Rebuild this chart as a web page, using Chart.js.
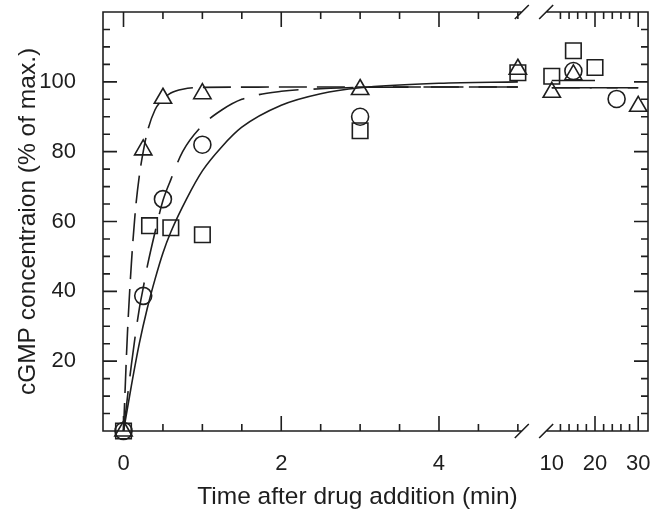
<!DOCTYPE html>
<html>
<head>
<meta charset="utf-8">
<script src="https://cdn.jsdelivr.net/npm/chart.js@4/dist/chart.umd.min.js"></script>
<style>
  html, body { margin: 0; padding: 0; background: #fff; overflow: hidden; }
  #wrap { width: 652px; height: 510px; position: relative; }
</style>
</head>
<body>
<div id="wrap"><canvas id="cgmpChart"></canvas></div>
<script>
// 測定点（時間 min, cGMP %）
const triTime = [0, 0.25, 0.5, 1, 3, 5, 10, 15, 30];
const triVal = [0, 80.5, 95.3, 96.6, 97.8, 103.6, 97, 102, 93];
const cirTime = [0, 0.25, 0.5, 1, 3, 15, 25];
const cirVal = [0, 38.7, 66.4, 82, 90, 103.1, 95.1];
const sqTime = [0, 0.33, 0.6, 1, 3, 5, 10, 15, 20];
const sqVal = [0, 58.8, 58.2, 56.2, 86, 102.6, 101.6, 108.9, 104.1];

// フィット曲線（図から読み取り、7 は軸の切れ目 = 線を切る）
const fitTriTime = [0, 0.05, 0.1, 0.15, 0.2, 0.25, 0.3, 0.4, 0.5, 0.6, 0.75, 1, 2, 3, 4, 5, 7, 10, 20, 30];
const fitTriVal = [0, 28, 48, 63, 73, 80, 85.5, 92, 95, 96.8, 97.9, 98.4, 98.5, 98.5, 98.5, 98.5, null, 98.3, 98.3, 98.3];
const fitCirTime = [0, 0.1, 0.2, 0.25, 0.3, 0.4, 0.5, 0.6, 0.75, 1, 1.25, 1.5, 2, 2.5, 3, 4, 5, 7, 10, 30];
const fitCirVal = [0, 19, 35, 41, 47, 57, 66, 72, 80, 87.5, 92, 95, 97.3, 98, 98.4, 98.5, 98.5, null, 98.3, 98.3];
const fitSqTime = [0, 0.1, 0.2, 0.3, 0.4, 0.5, 0.6, 0.8, 1, 1.25, 1.5, 2, 2.5, 3, 4, 5, 7, 10, 20];
const fitSqVal = [0, 13, 25, 35, 43.5, 51, 57, 66.5, 74.5, 81.5, 87, 93.3, 96.6, 98.3, 99.6, 100, null, 100.4, 100.4];

// 軸目盛り
const xLabels = [0, 2, 4, 10, 20, 30];
const xMinor = [0, 0.5, 1, 1.5, 2, 2.5, 3, 3.5, 4, 4.5, 5, 12, 14, 16, 18, 20, 22, 24, 26, 28, 30];
const xMajor = [0, 2, 4, 20, 30];
const yLabels = [20, 40, 60, 80, 100];
const yMinor = [5, 10, 15, 20, 25, 30, 35, 40, 45, 50, 55, 60, 65, 70, 75, 80, 85, 90, 95, 100, 105, 110, 115];
const xTitle = "Time after drug addition (min)";

// 切れ目のある横軸：0〜5 は線形、10〜30 は圧縮して右端へ
const X_MIN = -0.26;
const X_MAX = 6.65;
const BREAK_FROM = 5.05;
const BREAK_TO = 8.7;
const toAxis = (t) => (t <= 7.5 ? t : 5.43 + (t - 10) * 0.0548);
const fromAxis = (v) => (v <= 5.3 ? v : 10 + (v - 5.43) / 0.0548);

class BrokenScale extends Chart.LinearScale {
  static id = "broken";
  static defaults = Chart.LinearScale.defaults;
  determineDataLimits() {
    this.min = this.options.min;
    this.max = this.options.max;
  }
  // 表示範囲の判定は実時間で行う（右側の点が間引かれないように）
  getUserBounds() {
    return { min: fromAxis(this.options.min), max: fromAxis(this.options.max), minDefined: true, maxDefined: true };
  }
  getPixelForValue(t) {
    return super.getPixelForValue(toAxis(t));
  }
  getValueForPixel(p) {
    return fromAxis(super.getValueForPixel(p));
  }
}
Chart.register(BrokenScale);

const INK = "#1e1e1e";
const TICK_FONT = { family: "'Liberation Sans Narrow', 'Arial Narrow', 'Liberation Sans', Arial, sans-serif", size: 22 };
const TITLE_FONT = { family: "'Liberation Sans', Arial, sans-serif", size: 24.5 };
const pts = (ts, vs) => ts.map((t, i) => ({ x: t, y: vs[i] }));
const noPad = (s) => { s.paddingLeft = 0; s.paddingRight = 0; s.paddingTop = 0; s.paddingBottom = 0; };

// 内向きの目盛りと枠、切れ目の斜線、横軸タイトル
const framePlugin = {
  id: "frame",
  afterDatasetsDraw(chart) {
    const { ctx, chartArea: a, scales } = chart;
    const x = scales.x, y = scales.y;
    const bl = x.getPixelForValue(BREAK_FROM);
    const br = x.getPixelForValue(BREAK_TO);
    ctx.save();
    ctx.strokeStyle = INK;
    ctx.lineWidth = 1.6;
    ctx.beginPath();
    ctx.moveTo(bl, a.top); ctx.lineTo(a.left, a.top); ctx.lineTo(a.left, a.bottom); ctx.lineTo(bl, a.bottom);
    ctx.moveTo(br, a.top); ctx.lineTo(a.right, a.top); ctx.lineTo(a.right, a.bottom); ctx.lineTo(br, a.bottom);
    for (const px of [bl, br]) {
      for (const py of [a.top, a.bottom]) {
        ctx.moveTo(px - 7, py + 7);
        ctx.lineTo(px + 7, py - 7);
      }
    }
    xMinor.forEach((t) => {
      const px = x.getPixelForValue(t);
      const len = xMajor.includes(t) ? 15 : 7;
      ctx.moveTo(px, a.bottom); ctx.lineTo(px, a.bottom - len);
      ctx.moveTo(px, a.top); ctx.lineTo(px, a.top + len);
    });
    yMinor.forEach((v) => {
      const py = y.getPixelForValue(v);
      const len = yLabels.includes(v) ? 14 : 7;
      ctx.moveTo(a.left, py); ctx.lineTo(a.left + len, py);
      ctx.moveTo(a.right, py); ctx.lineTo(a.right - len, py);
    });
    ctx.stroke();

    // 横軸タイトル（元図は軸中央より少し左寄り）
    ctx.fillStyle = INK;
    ctx.font = `${TITLE_FONT.size}px ${TITLE_FONT.family}`;
    ctx.textAlign = "center";
    ctx.textBaseline = "middle";
    ctx.fillText(xTitle, (a.left + a.right) / 2 - 18, 497);
    ctx.restore();
  },
};

const markerStyle = {
  showLine: false,
  borderColor: INK,
  backgroundColor: "rgba(0,0,0,0)",
  borderWidth: 1.6,
  clip: false,
};
const curveStyle = {
  showLine: true,
  pointRadius: 0,
  borderColor: INK,
  borderWidth: 1.6,
  fill: false,
  cubicInterpolationMode: "monotone",
  spanGaps: false,
};

new Chart(document.getElementById("cgmpChart").getContext("2d"), {
  type: "scatter",
  data: {
    datasets: [
      { ...markerStyle, label: "triangle", data: pts(triTime, triVal), pointStyle: "triangle", pointRadius: 10 },
      { ...markerStyle, label: "circle", data: pts(cirTime, cirVal), pointStyle: "circle", pointRadius: 8.5 },
      { ...markerStyle, label: "square", data: pts(sqTime, sqVal), pointStyle: "rect", pointRadius: 11 },
      { ...curveStyle, label: "fit tri", data: pts(fitTriTime, fitTriVal), borderDash: [28, 10] },
      { ...curveStyle, label: "fit cir", data: pts(fitCirTime, fitCirVal), borderDash: [40, 15] },
      { ...curveStyle, label: "fit sq", data: pts(fitSqTime, fitSqVal) },
    ],
  },
  options: {
    responsive: true,
    maintainAspectRatio: false,
    animation: false,
    layout: { autoPadding: false, padding: { top: 12, right: 4, left: 0, bottom: 0 } },
    plugins: { legend: { display: false }, tooltip: { enabled: false } },
    scales: {
      x: {
        type: "broken",
        min: X_MIN,
        max: X_MAX,
        grid: { display: false, drawTicks: false },
        border: { display: false },
        afterBuildTicks: (s) => { s.ticks = xLabels.map((v) => ({ value: v })); },
        afterFit: (s) => { s.height = 79; noPad(s); },
        ticks: {
          autoSkip: false,
          maxRotation: 0,
          padding: 20,
          color: INK,
          font: TICK_FONT,
          callback: (v) => String(v),
        },
      },
      y: {
        type: "linear",
        min: 0,
        max: 120,
        grid: { display: false, drawTicks: false },
        border: { display: false },
        afterBuildTicks: (s) => { s.ticks = yLabels.map((v) => ({ value: v })); },
        afterFit: (s) => { s.width = 103; noPad(s); },
        ticks: {
          padding: 27,
          color: INK,
          font: TICK_FONT,
        },
        title: {
          display: true,
          text: "cGMP concentraion (% of max.)",
          color: INK,
          padding: { top: 14, bottom: 0 },
          font: TITLE_FONT,
        },
      },
    },
  },
  plugins: [framePlugin],
});
</script>
</body>
</html>
